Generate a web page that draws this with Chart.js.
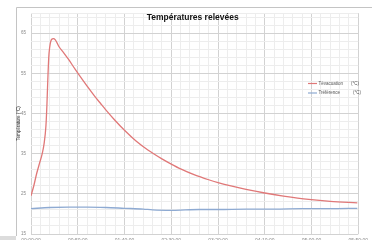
<!DOCTYPE html>
<html><head><meta charset="utf-8">
<script src="https://cdn.jsdelivr.net/npm/chart.js@4"></script>
<style>
html,body{margin:0;padding:0;background:#fff;overflow:hidden;width:372px;height:240px;}
#wrap{position:absolute;left:0;top:0;width:372px;height:250px;}
</style></head>
<body>
<div id="wrap"><canvas id="c" width="372" height="250"></canvas></div>
<script>
// Data (x in minutes from start)
const chartTitle = 'Températures relevées';
const yAxisTitle = 'Température (°C)';
const seriesNames = ['Tévacuation', 'Tréférence'];
const seriesUnits = ['(°C)', '(°C)'];
const evacTime = [0,3,6,9,12,14,16,17,18,19,20,21,22,24,26,28,30,35,40,47.5,55,60,68,75,80,89,100,112,125,140,150,160,175,190,200,215,230,250,270,297,320,349];
const evacTemp = [24.5,27,30,32.5,35,37.5,42,47,53.5,59,61.5,62.8,63.4,63.6,63.3,62.5,61.6,60.1,58.5,55.9,53.4,51.8,49.3,47.3,45.9,43.5,40.8,38.2,35.9,33.7,32.4,31.2,29.7,28.5,27.8,26.9,26.1,25.2,24.45,23.6,23.1,22.75];
const refTime = [0,20,40,60,80,100,120,130,150,165,180,200,230,260,290,320,349];
const refTemp = [21.3,21.6,21.7,21.7,21.6,21.4,21.2,21.0,20.9,21.0,21.1,21.1,21.2,21.2,21.3,21.3,21.4];
const yTickLabels = ['15','25','35','45','55','65'];
const xTickLabels = ['00:00:00','00:50:00','01:40:00','02:30:00','03:20:00','04:10:00','05:00:00','05:50:00'];

const toPts = (xs, ys) => xs.map((x, i) => ({x: x, y: ys[i]}));

const frame = {
  id: 'frame',
  beforeDraw(chart) {
    const ctx = chart.ctx;
    ctx.save();
    ctx.fillStyle = '#fff';
    ctx.fillRect(0, 0, chart.width, chart.height);
    ctx.strokeStyle = '#c4c4c4';
    ctx.lineWidth = 1;
    ctx.beginPath();
    ctx.moveTo(16.5, 236);
    ctx.lineTo(16.5, 7.5);
    ctx.lineTo(372, 7.5);
    ctx.stroke();
    ctx.fillStyle = '#dcdcdc';
    ctx.fillRect(0, 236, 16, 14);
    ctx.restore();
  },
  afterDraw(chart) {
    const ctx = chart.ctx;
    const a = chart.chartArea;
    ctx.save();
    ctx.fillStyle = '#111';
    ctx.font = 'bold 8.5px "Liberation Sans"';
    ctx.textAlign = 'center';
    ctx.textBaseline = 'middle';
    ctx.fillText(chartTitle, (a.left + a.right) / 2 - 2, 17.5);
    // legend
    ctx.font = '4.5px "Liberation Sans"';
    ctx.textAlign = 'left';
    const rows = [83.5, 93];
    chart.data.datasets.forEach((ds, i) => {
      const y = rows[i];
      ctx.strokeStyle = ds.borderColor;
      ctx.lineWidth = 1.2;
      ctx.beginPath();
      ctx.moveTo(308, y);
      ctx.lineTo(317, y);
      ctx.stroke();
      ctx.fillStyle = '#555';
      ctx.fillText(seriesNames[i], 318.5, y);
      ctx.fillText(seriesUnits[i], i === 0 ? 351 : 353, y);
    });
    ctx.restore();
  }
};

new Chart(document.getElementById('c'), {
  type: 'line',
  data: {
    datasets: [
      {label: seriesNames[0], data: toPts(evacTime, evacTemp), borderColor: '#e07878', borderWidth: 1.3, pointRadius: 0, cubicInterpolationMode: 'monotone'},
      {label: seriesNames[1], data: toPts(refTime, refTemp), borderColor: '#8eaad2', borderWidth: 1.3, pointRadius: 0, cubicInterpolationMode: 'monotone'}
    ]
  },
  options: {
    responsive: false,
    animation: false,
    devicePixelRatio: 1,
    layout: {padding: {left: 14, top: 13, right: 2, bottom: 0}},
    plugins: {legend: {display: false}, tooltip: {enabled: false}, title: {display: false}},
    scales: {
      x: {
        type: 'linear', min: 0, max: 350,
        afterFit(s) { s.height = 16; },
        ticks: {stepSize: 10, autoSkip: false, maxRotation: 0, padding: 4, color: '#888',
          font: {size: 5, family: 'Liberation Sans'},
          callback: (v) => (v % 50 === 0 ? xTickLabels[v / 50] : '')},
        grid: {drawTicks: false, lineWidth: 1,
          color: (c) => (c.tick && c.tick.value % 50 === 0 ? '#d2d2d2' : '#ededed')},
        border: {display: false}
      },
      y: {
        type: 'linear', min: 15, max: 70,
        afterFit(s) { s.width = 17; },
        afterBuildTicks(s) {
          const t = [];
          for (let v = 15; v < 70; v += 2) t.push({value: v});
          t.push({value: 70});
          s.ticks = t;
        },
        ticks: {autoSkip: false, padding: 5, color: '#888',
          font: {size: 4.5, family: 'Liberation Sans'},
          callback: (v) => { const i = yTickLabels.indexOf(String(v)); return i >= 0 ? yTickLabels[i] : ''; }},
        title: {display: true, text: yAxisTitle, color: '#222', padding: {top: 2, bottom: 0},
          font: {size: 4.5, family: 'Liberation Sans'}},
        grid: {drawTicks: false, lineWidth: 1,
          color: (c) => (c.tick && (c.tick.value - 15) % 10 === 0 ? '#d2d2d2' : '#ededed')},
        border: {display: false}
      }
    }
  },
  plugins: [frame]
});
</script>
</body></html>
